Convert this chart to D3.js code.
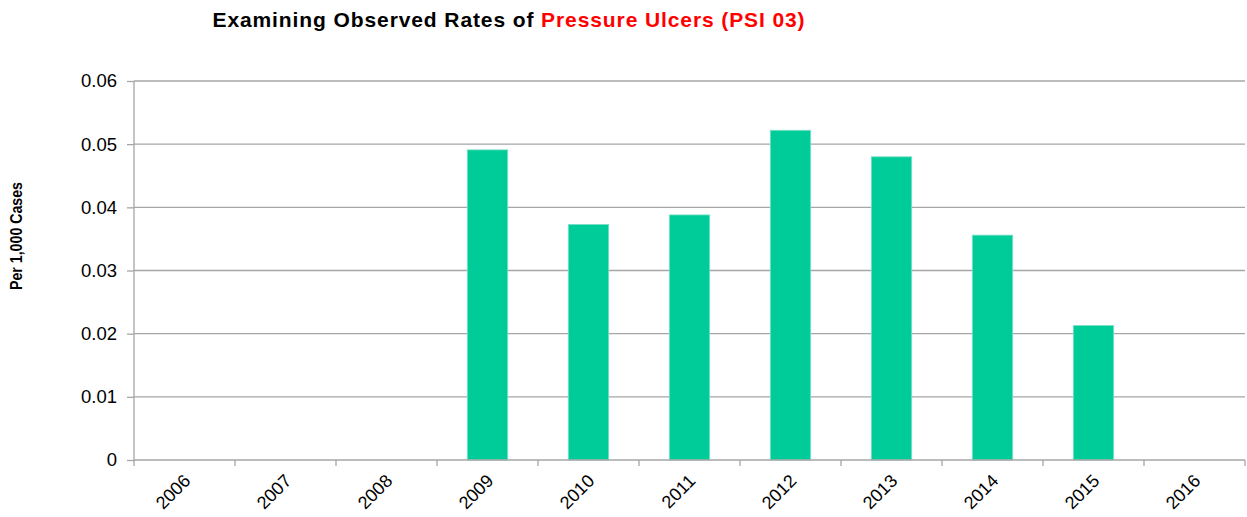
<!DOCTYPE html>
<html><head><meta charset="utf-8">
<script src="https://cdn.jsdelivr.net/npm/d3@7"></script>
<style>body{margin:0;background:#fff;} svg{display:block;font-family:"Liberation Sans",Arial,sans-serif;}</style>
</head><body>
<svg id="c" width="1247" height="517"></svg>
<script>
const years = ["2006","2007","2008","2009","2010","2011","2012","2013","2014","2015","2016"];
const rates = [null,null,null,0.0491,0.0373,0.0388,0.0522,0.0480,0.0356,0.0213,null];
const yTicks = [0,0.01,0.02,0.03,0.04,0.05,0.06];
const titleBlack = "Examining Observed Rates of ";
const titleRed = "Pressure Ulcers (PSI 03)";
const yLabel = "Per 1,000 Cases";

const svg = d3.select("#c");
const m = {left:134, right:1245, top:81, bottom:460};
const x = d3.scaleBand().domain(years).range([m.left,m.right]).paddingInner(0).paddingOuter(0);
const y = d3.scaleLinear().domain([0,0.06]).range([m.bottom,m.top]);

// gridlines
svg.append("g").selectAll("line").data(yTicks.filter(d=>d>0)).join("line")
  .attr("x1",m.left).attr("x2",m.right).attr("y1",d=>y(d)).attr("y2",d=>y(d))
  .attr("stroke","#a6a6a6").attr("stroke-width",1.3);

// bars
const bw = x.bandwidth()*0.4;
svg.append("g").selectAll("rect").data(years.map((yr,i)=>({yr,v:rates[i]})).filter(d=>d.v!=null)).join("rect")
  .attr("x",d=>x(d.yr)+x.bandwidth()/2-bw/2).attr("width",bw)
  .attr("y",d=>y(d.v)).attr("height",d=>y(0)-y(d.v))
  .attr("fill","#00cc99").attr("stroke","#7fe0c6").attr("stroke-width",0.8);

// y axis
const yAxis = d3.axisLeft(y).tickValues(yTicks).tickFormat(d=>d===0?"0":d3.format(".2f")(d)).tickSize(7).tickPadding(10);
const ga = svg.append("g").attr("transform",`translate(${m.left},0)`).call(yAxis);
ga.select(".domain").attr("stroke","#a6a6a6").attr("stroke-width",1.3).attr("d",`M0,${m.top}V${m.bottom}`);
ga.selectAll(".tick line").attr("stroke","#a6a6a6").attr("stroke-width",1.3);
ga.selectAll(".tick text").attr("font-size","18.5px").attr("fill","#000").attr("font-family","Liberation Sans, Arial, sans-serif");

// x axis
const xb = svg.append("g").attr("transform",`translate(0,${m.bottom})`);
xb.append("line").attr("x1",m.left).attr("x2",m.right).attr("stroke","#a6a6a6").attr("stroke-width",1.3);
const edges = years.map(d=>x(d)).concat([m.right]);
xb.selectAll("line.t").data(edges).join("line").attr("class","t")
  .attr("x1",d=>d).attr("x2",d=>d).attr("y1",0).attr("y2",6).attr("stroke","#a6a6a6").attr("stroke-width",1.3);
xb.selectAll("text").data(years).join("text")
  .attr("transform",d=>`translate(${x(d)+x.bandwidth()/2+7},${22}) rotate(-45)`)
  .attr("text-anchor","end").attr("font-size","18px").attr("fill","#000").text(d=>d);

// title
const t = svg.append("text").attr("x",509).attr("y",27).attr("text-anchor","middle")
  .attr("font-size","21px").attr("font-weight","bold").attr("letter-spacing","0.9px");
t.append("tspan").attr("fill","#000").text(titleBlack);
t.append("tspan").attr("fill","#ff0000").text(titleRed);

// y label
svg.append("text").attr("transform","translate(22,236) rotate(-90)").attr("text-anchor","middle")
  .attr("font-size","16.5px").attr("font-weight","bold").attr("fill","#000")
  .attr("textLength",108).attr("lengthAdjust","spacingAndGlyphs").text(yLabel);
</script>
</body></html>
